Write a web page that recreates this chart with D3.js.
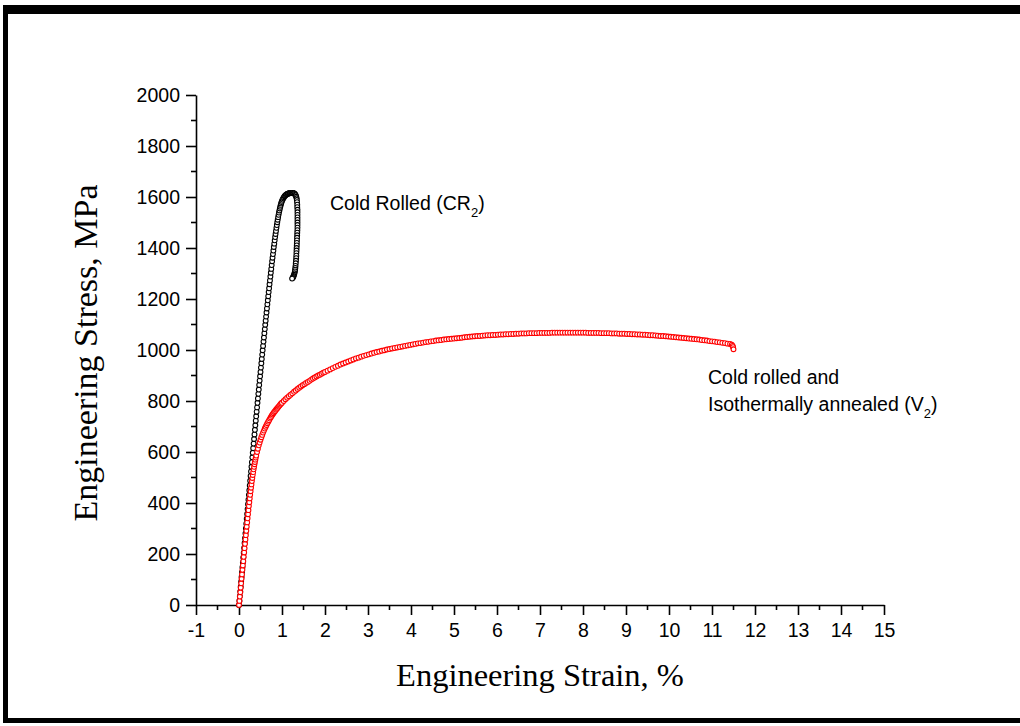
<!DOCTYPE html>
<html>
<head>
<meta charset="utf-8">
<script src="https://cdn.jsdelivr.net/npm/d3@7"></script>
<style>
  html, body { margin: 0; padding: 0; background: #fff; }
  svg { display: block; }
</style>
</head>
<body>
<div id="chart"></div>
<script>
// Tensile test curves: engineering strain (%) vs engineering stress (MPa)

// Cold rolled specimen (CR2): [strain %, stress MPa]
const crPoints = [
  [0.00,0],[0.01,17],[0.02,35],[0.03,53],[0.04,72],[0.05,91],[0.06,110],[0.07,129],[0.08,148],[0.09,167],
  [0.10,186],[0.11,205],[0.12,224],[0.13,243],[0.14,262],[0.15,281],[0.16,300],[0.17,319],[0.18,338],[0.19,357],
  [0.20,376],[0.21,395],[0.22,413],[0.23,432],[0.24,450],[0.25,469],[0.26,487],[0.27,506],[0.28,524],[0.29,542],
  [0.30,560],[0.31,579],[0.32,597],[0.33,615],[0.34,633],[0.35,651],[0.36,669],[0.37,687],[0.38,705],[0.39,723],
  [0.40,740],[0.41,758],[0.42,775],[0.43,793],[0.44,810],[0.45,828],[0.46,845],[0.47,863],[0.48,880],[0.49,897],
  [0.50,914],[0.51,931],[0.52,948],[0.53,965],[0.54,982],[0.55,999],[0.56,1016],[0.57,1033],[0.58,1049],[0.59,1066],
  [0.60,1082],[0.61,1099],[0.62,1115],[0.63,1131],[0.64,1147],[0.65,1163],[0.66,1179],[0.67,1195],[0.68,1211],[0.69,1227],
  [0.70,1242],[0.71,1258],[0.72,1273],[0.73,1288],[0.74,1303],[0.75,1318],[0.76,1333],[0.77,1348],[0.78,1362],[0.79,1376],
  [0.80,1390],[0.81,1404],[0.82,1417],[0.83,1430],[0.84,1443],[0.85,1455],[0.86,1467],[0.87,1479],[0.88,1490],[0.89,1501],
  [0.90,1511],[0.91,1521],[0.92,1530],[0.93,1539],[0.94,1547],[0.95,1555],[0.96,1562],[0.97,1569],[0.98,1575],[0.99,1580],
  [1.00,1585],[1.015,1590],[1.03,1595],[1.045,1599],[1.06,1603],[1.075,1606],[1.09,1608],[1.105,1610],[1.12,1612],[1.135,1613],
  [1.15,1614],[1.165,1615],[1.18,1615],[1.195,1616],[1.21,1616],[1.225,1616],[1.24,1616],[1.255,1616],[1.27,1615],[1.285,1614],
  [1.30,1612],[1.31,1609],[1.32,1606],[1.33,1601],[1.34,1595],[1.345,1588],[1.35,1580],[1.355,1570],[1.355,1560],[1.36,1550],
  [1.36,1540],[1.36,1530],[1.36,1520],[1.36,1510],[1.36,1500],[1.36,1490],[1.36,1480],[1.358,1470],[1.355,1460],[1.353,1450],
  [1.35,1440],[1.348,1430],[1.345,1420],[1.343,1410],[1.34,1400],[1.338,1390],[1.335,1380],[1.333,1370],[1.33,1360],[1.325,1350],
  [1.32,1340],[1.315,1330],[1.31,1322],[1.305,1315],[1.30,1308],[1.29,1301],[1.28,1295],[1.27,1290],[1.26,1286],[1.25,1283],
  [1.235,1280]
];

// Cold rolled and isothermally annealed specimen (V2): [strain %, stress MPa]
const v2Points = [
  [0.00,0],[0.01,16],[0.02,33],[0.03,50],[0.04,68],[0.05,85],[0.06,103],[0.07,120],[0.08,138],[0.09,155],
  [0.10,172],[0.11,189],[0.12,206],[0.13,223],[0.14,240],[0.15,257],[0.16,274],[0.17,291],[0.18,307],[0.19,324],
  [0.20,340],[0.21,356],[0.22,372],[0.23,388],[0.24,403],[0.25,418],[0.26,432],[0.27,446],[0.28,460],[0.29,473],
  [0.30,486],[0.31,498],[0.32,510],[0.33,521],[0.34,532],[0.35,542],[0.36,552],[0.37,561],[0.38,570],[0.39,578],
  [0.40,586],[0.42,600],[0.44,613],[0.46,626],[0.48,637],[0.50,648],[0.52,658],[0.54,667],[0.56,676],[0.58,684],
  [0.60,692],[0.62,699],[0.64,706],[0.66,713],[0.68,719],[0.70,725],[0.72,731],[0.74,736],[0.76,742],[0.78,747],
  [0.80,752],[0.82,757],[0.84,761],[0.86,766],[0.88,770],[0.90,774],[0.92,778],[0.94,782],[0.96,786],[0.98,790],
  [1.00,793],[1.04,800],[1.08,807],[1.12,813],[1.16,819],[1.20,825],[1.24,830],[1.28,836],[1.32,841],[1.36,847],
  [1.40,852],[1.44,857],[1.48,862],[1.52,866],[1.56,871],[1.60,875],[1.64,879],[1.68,884],[1.72,888],[1.76,892],
  [1.80,896],[1.84,900],[1.88,903],[1.92,907],[1.96,911],[2.00,914],[2.06,919],[2.12,924],[2.18,929],[2.24,934],
  [2.30,938],[2.36,943],[2.42,947],[2.48,951],[2.54,955],[2.60,959],[2.66,963],[2.72,967],[2.78,970],[2.84,974],
  [2.90,977],[2.96,980],[3.02,983],[3.08,986],[3.14,989],[3.20,992],[3.26,994],[3.32,997],[3.38,999],[3.44,1002],
  [3.50,1004],[3.56,1006],[3.62,1008],[3.68,1010],[3.74,1012],[3.80,1014],[3.86,1016],[3.92,1018],[3.98,1020],[4.04,1022],
  [4.10,1024],[4.16,1026],[4.22,1027],[4.28,1029],[4.34,1031],[4.40,1032],[4.46,1034],[4.52,1035],[4.58,1037],[4.64,1038],
  [4.70,1039],[4.76,1041],[4.82,1042],[4.88,1043],[4.94,1044],[5.00,1045],[5.06,1046],[5.12,1047],[5.18,1048],[5.24,1050],
  [5.30,1051],[5.36,1052],[5.42,1053],[5.48,1054],[5.54,1055],[5.60,1055],[5.66,1056],[5.72,1057],[5.78,1058],[5.84,1058],
  [5.90,1059],[5.96,1059],[6.02,1060],[6.08,1061],[6.14,1061],[6.20,1062],[6.26,1062],[6.32,1063],[6.38,1063],[6.44,1064],
  [6.50,1064],[6.56,1065],[6.62,1065],[6.68,1065],[6.74,1066],[6.80,1066],[6.86,1066],[6.92,1066],[6.98,1067],[7.04,1067],
  [7.10,1067],[7.16,1067],[7.22,1067],[7.28,1068],[7.34,1068],[7.40,1068],[7.46,1068],[7.52,1068],[7.58,1068],[7.64,1068],
  [7.70,1068],[7.76,1068],[7.82,1068],[7.88,1068],[7.94,1068],[8.00,1068],[8.06,1068],[8.12,1067],[8.18,1067],[8.24,1067],
  [8.30,1067],[8.36,1067],[8.42,1066],[8.48,1066],[8.54,1066],[8.60,1066],[8.66,1065],[8.72,1065],[8.78,1065],[8.84,1064],
  [8.90,1064],[8.96,1064],[9.02,1063],[9.08,1063],[9.14,1062],[9.20,1062],[9.26,1061],[9.32,1061],[9.38,1060],[9.44,1060],
  [9.50,1059],[9.56,1058],[9.62,1058],[9.68,1057],[9.74,1056],[9.80,1055],[9.86,1055],[9.92,1054],[9.98,1053],[10.04,1052],
  [10.10,1051],[10.16,1050],[10.22,1049],[10.28,1048],[10.34,1047],[10.40,1046],[10.46,1045],[10.52,1044],[10.58,1043],[10.64,1042],
  [10.70,1041],[10.76,1039],[10.82,1038],[10.88,1037],[10.94,1035],[11.00,1034],[11.06,1033],[11.12,1031],[11.18,1030],[11.24,1028],
  [11.30,1027],[11.36,1025],[11.42,1024],[11.46,1021],[11.48,1016],[11.49,1011],[11.50,1003]
];

const xTicks = d3.range(-1, 16, 1);
const yTicks = d3.range(0, 2001, 200);
const xMinor = d3.range(-0.5, 15, 1);
const yMinor = d3.range(100, 2000, 200);

const W = 1020, H = 726;
const svg = d3.select("#chart").append("svg").attr("width", W).attr("height", H);

// page frame (top, left and bottom bars)
svg.append("rect").attr("x", 3).attr("y", 5).attr("width", W - 3).attr("height", 9).attr("fill", "#000");
svg.append("rect").attr("x", 3).attr("y", 5).attr("width", 5).attr("height", 718).attr("fill", "#000");
svg.append("rect").attr("x", 3).attr("y", 718).attr("width", W - 3).attr("height", 5).attr("fill", "#000");

const x = d3.scaleLinear().domain([-1, 15]).range([196, 884]);
const y = d3.scaleLinear().domain([0, 2000]).range([605, 95]);

const sansFont = "'Liberation Sans', Arial, sans-serif";
const serifFont = "'Liberation Serif', 'Times New Roman', serif";

// x axis
const gx = svg.append("g").attr("transform", `translate(0,${y(0)})`);
gx.call(d3.axisBottom(x).tickValues(xTicks).tickSize(10).tickSizeOuter(0).tickPadding(8).tickFormat(d => String(d)));
gx.append("g").selectAll("line").data(xMinor).join("line")
  .attr("x1", d => x(d)).attr("x2", d => x(d)).attr("y1", 0).attr("y2", 5)
  .attr("stroke", "#000").attr("stroke-width", 1.6);

// y axis
const gy = svg.append("g").attr("transform", `translate(${x(-1)},0)`);
gy.call(d3.axisLeft(y).tickValues(yTicks).tickSize(10).tickSizeOuter(0).tickPadding(6).tickFormat(d => String(d)));
gy.append("g").selectAll("line").data(yMinor).join("line")
  .attr("y1", d => y(d)).attr("y2", d => y(d)).attr("x1", 0).attr("x2", -5)
  .attr("stroke", "#000").attr("stroke-width", 1.6);

[gx, gy].forEach(g => {
  g.select(".domain").attr("stroke", "#000").attr("stroke-width", 1.6);
  g.selectAll(".tick line").attr("stroke", "#000").attr("stroke-width", 1.6);
  g.selectAll(".tick text").attr("fill", "#000").style("font-family", sansFont).style("font-size", "19.5px");
});

// axis titles
svg.append("text").attr("x", 540).attr("y", 686).attr("text-anchor", "middle")
  .style("font-family", serifFont).style("font-size", "32.5px")
  .text("Engineering Strain, %");
svg.append("text").attr("transform", "translate(97,353) rotate(-90)").attr("text-anchor", "middle")
  .style("font-family", serifFont).style("font-size", "34px")
  .text("Engineering Stress, MPa");

// data markers: hollow circles
function drawSeries(points, color) {
  svg.append("g").selectAll("circle").data(points).join("circle")
    .attr("cx", d => x(d[0])).attr("cy", d => y(d[1])).attr("r", 2.4)
    .attr("fill", "#fff").attr("stroke", color).attr("stroke-width", 1.1);
}
drawSeries(crPoints, "#000");
drawSeries(v2Points, "#ff0000");

// curve labels
const lab = svg.append("g").style("font-family", sansFont).style("font-size", "19.5px").attr("fill", "#000");
const t1 = lab.append("text").attr("x", 330).attr("y", 210);
t1.append("tspan").text("Cold Rolled (CR");
t1.append("tspan").attr("dy", 7).style("font-size", "13px").text("2");
t1.append("tspan").attr("dy", -7).text(")");

lab.append("text").attr("x", 708).attr("y", 384).text("Cold rolled and");
const t2 = lab.append("text").attr("x", 708).attr("y", 411);
t2.append("tspan").text("Isothermally annealed (V");
t2.append("tspan").attr("dy", 7).style("font-size", "13px").text("2");
t2.append("tspan").attr("dy", -7).text(")");
</script>
</body>
</html>
